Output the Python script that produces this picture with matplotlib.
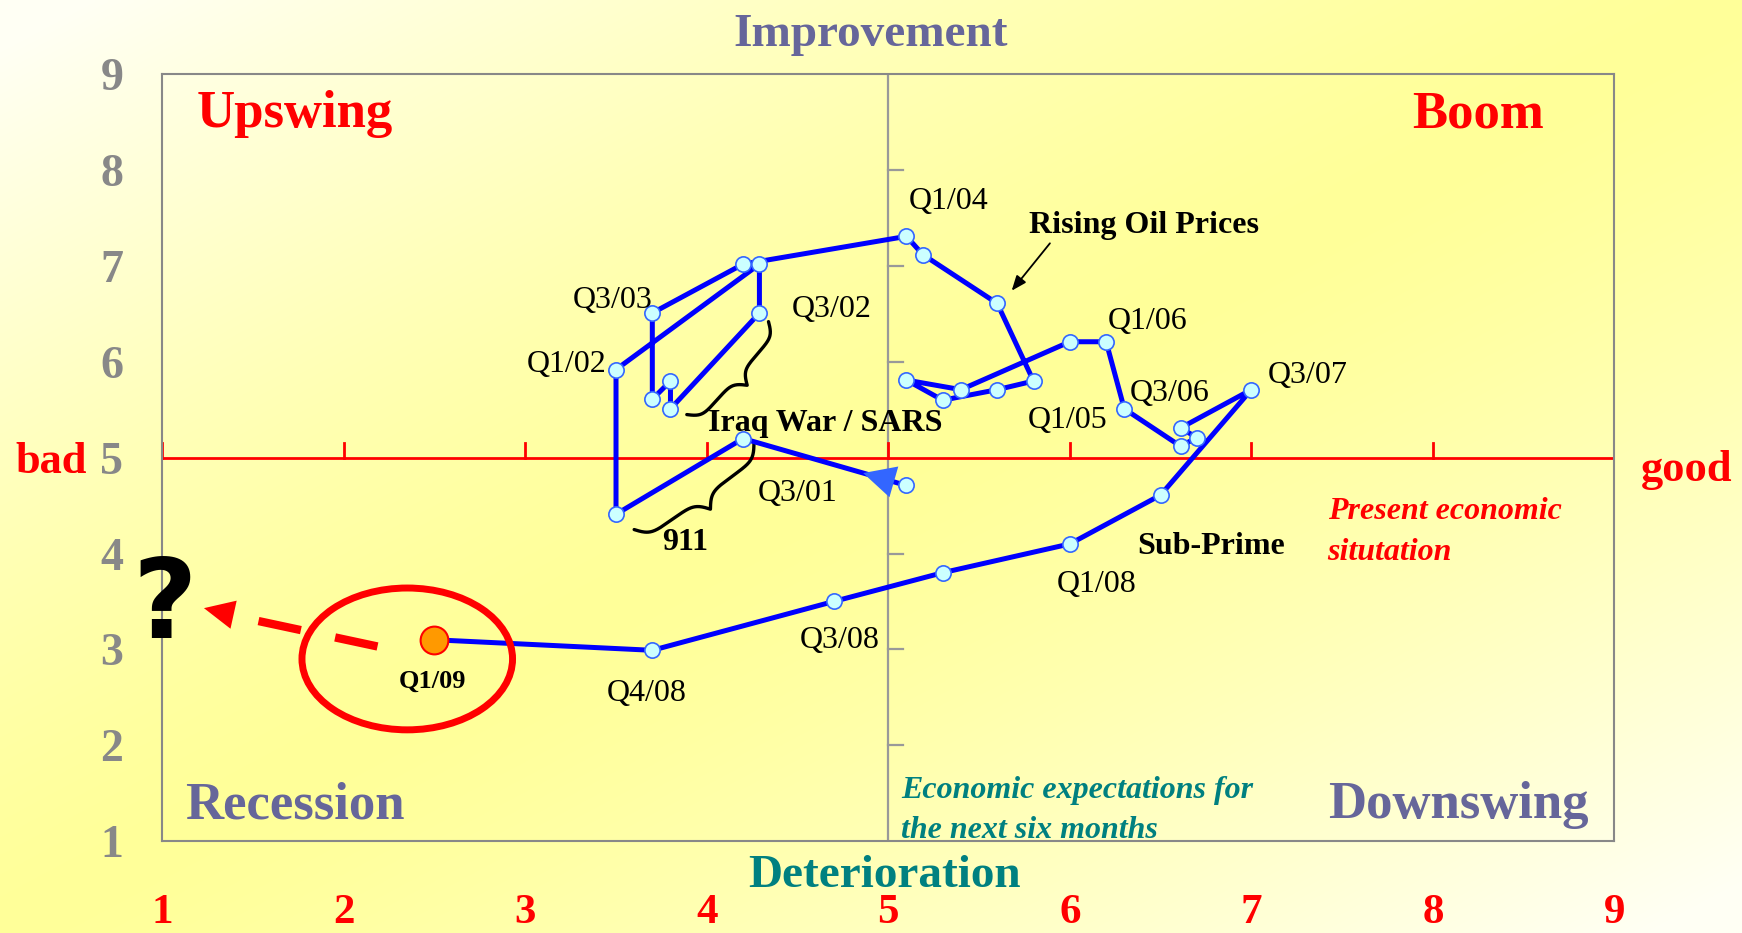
import numpy as np
import matplotlib
matplotlib.use("Agg")
import matplotlib.pyplot as plt
from matplotlib.patches import Ellipse

# quarterly survey readings: present situation (x) vs. expectations (y)
quarters = ['Q2/01', 'Q3/01', 'Q4/01',
            'Q1/02', 'Q2/02', 'Q3/02', 'Q4/02',
            'Q1/03', 'Q2/03', 'Q3/03', 'Q4/03',
            'Q1/04', 'Q2/04', 'Q3/04', 'Q4/04',
            'Q1/05', 'Q2/05', 'Q3/05', 'Q4/05',
            'Q1/06', 'Q2/06', 'Q3/06', 'Q4/06',
            'Q1/07', 'Q2/07', 'Q3/07', 'Q4/07',
            'Q1/08', 'Q2/08', 'Q3/08', 'Q4/08',
            'Q1/09']
present = [5.10, 4.20, 3.50,
           3.50, 4.29, 4.29, 3.80,
           3.80, 3.70, 3.70, 4.20,
           5.10, 5.19, 5.60, 5.80,
           5.60, 5.30, 5.10, 5.40,
           6.00, 6.20, 6.30, 6.61,
           6.70, 6.61, 7.00, 6.50,
           6.00, 5.30, 4.70, 3.70,
           2.50]
expectations = [4.71, 5.20, 4.41,
                5.92, 7.02, 6.51, 5.51,
                5.80, 5.61, 6.51, 7.02,
                7.31, 7.12, 6.61, 5.80,
                5.71, 5.60, 5.81, 5.71,
                6.21, 6.21, 5.51, 5.12,
                5.21, 5.31, 5.71, 4.61,
                4.10, 3.80, 3.50, 2.99,
                3.10]
ticks = [1, 2, 3, 4, 5, 6, 7, 8, 9]

# which quarters get a label, and where the label goes
quarter_labels = {
    'Q1/04': (5.33, 7.67), 'Q3/03': (3.48, 6.64), 'Q3/02': (4.69, 6.55),
    'Q1/02': (3.23, 5.97), 'Q3/01': (4.50, 4.63), 'Q1/06': (6.43, 6.42),
    'Q1/05': (5.99, 5.39), 'Q3/06': (6.55, 5.67), 'Q3/07': (7.31, 5.86),
    'Q1/08': (6.15, 3.68), 'Q3/08': (4.73, 3.09), 'Q4/08': (3.67, 2.54),
}

SERIF = 'Liberation Serif'
SLATE = '#66669a'
TEAL = '#008080'


def brace(ax, p0, p1, depth, color='black', lw=2.4):
    # curly brace between two data points, drawn in pixel space
    a = ax.transData.transform(p0)
    b = ax.transData.transform(p1)
    d = b - a
    length = np.hypot(*d)
    u = d / length
    n = np.array([-u[1], u[0]])
    half = np.linspace(0, length / 2, 150)
    beta = 14.0 / (length / 2)
    h = (1 / (1 + np.exp(-beta * (half - half[0])))
         + 1 / (1 + np.exp(-beta * (half - half[-1]))))
    s = np.concatenate([half, length - half[::-1]])
    h = np.concatenate([h, h[::-1]]) - 0.5
    pts = a + np.outer(s, u) + np.outer(h * depth, n)
    pts = ax.transData.inverted().transform(pts)
    ax.plot(pts[:, 0], pts[:, 1], color=color, lw=lw, zorder=2,
            solid_capstyle='round')


fig = plt.figure(figsize=(17.42, 9.33), dpi=100)

# soft yellow backdrop, paler towards two corners
yy, xx = np.mgrid[0:1:240j, 0:1:450j]
w = np.clip(np.abs(xx + yy - 1) * 1.05, 0, 1) ** 1.4
grad = np.zeros(xx.shape + (3,))
grad[..., 0] = 1.0
grad[..., 1] = 1.0
grad[..., 2] = 0.60 * (1 - w) + 0.96 * w
bg = fig.add_axes([0, 0, 1, 1], zorder=-10)
bg.imshow(grad, extent=[0, 1, 0, 1], aspect='auto', origin='upper',
          interpolation='bilinear')
bg.axis('off')

ax = fig.add_axes([162.2 / 1742, 1 - 841 / 933,
                   (1614.4 - 162.2) / 1742, (841 - 74.4) / 933])
ax.set_xlim(1, 9)
ax.set_ylim(1, 9)
ax.patch.set_visible(False)
for sp in ax.spines.values():
    sp.set_color('#888888')
    sp.set_linewidth(1.5)

ax.set_xticks(ticks)
ax.set_yticks(ticks)
ax.tick_params(axis='x', length=0, pad=38, labelcolor='red', labelsize=31)
ax.tick_params(axis='y', length=0, pad=28, labelcolor='#888888', labelsize=33)
for lbl in ax.get_xticklabels() + ax.get_yticklabels():
    lbl.set_family(SERIF)
    lbl.set_fontweight('bold')

# cross-hairs at the neutral value 5
ax.axvline(5, color='#999999', lw=1.6, zorder=1)
ax.axhline(5, color='red', lw=2.0, zorder=1)
for t in ticks:
    ax.plot([t, t], [5, 5.157], color='red', lw=2.0, zorder=1)
    if t not in (1, 5, 9):
        ax.plot([5, 5.083], [t, t], color='#999999', lw=1.6, zorder=1)

# the cycle path
ax.plot(present, expectations, color='#0000ff', lw=3.6, zorder=3,
        solid_joinstyle='round')
ax.plot(present[:-1], expectations[:-1], 'o', ms=11, mfc='#ccffff',
        mec='#3366ff', mew=1.2, zorder=4)
ax.plot(present[-1], expectations[-1], 'o', ms=20, mfc='#ff9900',
        mec='red', mew=1.5, zorder=5)

# start marker: arrowhead along the first segment
p0 = np.array([present[0], expectations[0]])
p1 = np.array([present[1], expectations[1]])
tip = p0 + 0.265 * (p1 - p0)
ax.annotate('', xy=tip, xytext=p0,
            arrowprops=dict(arrowstyle='-|>,head_length=1.0,head_width=0.5',
                            color='#3366ff', lw=0, mutation_scale=23,
                            shrinkA=0, shrinkB=0), zorder=4)

for q, (lx, ly) in quarter_labels.items():
    ax.text(lx, ly, q, family=SERIF, fontsize=23, ha='center', va='center',
            zorder=6)
ax.text(2.49, 2.67, quarters[-1], family=SERIF, fontsize=19,
        fontweight='bold', ha='center', va='center', zorder=6)

# event annotations
bold = dict(family=SERIF, fontsize=23, fontweight='bold', ha='center',
            va='center', zorder=6)
ax.text(6.41, 7.42, 'Rising Oil Prices', **bold)
ax.text(4.65, 5.36, 'Iraq War / SARS', **bold)
ax.text(3.88, 4.12, '911', **bold)
ax.text(6.78, 4.07, 'Sub-Prime', **bold)
ax.annotate('', xy=(5.67, 6.72), xytext=(5.90, 7.26),
            arrowprops=dict(arrowstyle='-|>,head_length=0.5,head_width=0.2',
                            color='black', lw=1.3, mutation_scale=18))
brace(ax, (4.34, 6.42), (3.89, 5.45), 26)
brace(ax, (4.26, 5.15), (3.60, 4.25), 28)

# the open question: where next?
ax.add_patch(Ellipse((2.35, 2.90), 1.16, 1.48, fill=False, ec='red',
                     lw=5, zorder=5))
ax.plot([2.186, 1.42], [3.03, 3.34], color='red', lw=6,
        linestyle=(0, (5.2, 4.2)), dash_capstyle='butt', zorder=5)
ax.annotate('', xy=(1.23, 3.43), xytext=(2.186, 3.03),
            arrowprops=dict(arrowstyle='-|>,head_length=0.95,head_width=0.45',
                            color='red', lw=0, mutation_scale=23,
                            shrinkA=0, shrinkB=0), zorder=5)
ax.text(1.015, 3.44, '?', family='DejaVu Sans', fontweight='bold',
        fontsize=80, ha='center', va='center', zorder=6)

# quadrant names
quad = dict(family=SERIF, fontsize=38, fontweight='bold', ha='center',
            va='center')
ax.text(1.73, 8.585, 'Upswing', color='red', **quad)
ax.text(8.25, 8.585, 'Boom', color='red', **quad)
ax.text(1.73, 1.375, 'Recession', color=SLATE, **quad)
ax.text(8.14, 1.375, 'Downswing', color=SLATE, **quad)

# axis captions
ital = dict(family=SERIF, fontsize=23, fontweight='bold', style='italic',
            ha='left', va='center')
ax.text(7.42, 4.44, 'Present economic', color='red', **ital)
ax.text(7.42, 4.01, 'situtation', color='red', **ital)
ax.text(5.07, 1.53, 'Economic expectations for', color=TEAL, **ital)
ax.text(5.07, 1.11, 'the next six months', color=TEAL, **ital)

ax.text(0.584, 4.96, 'bad', color='red', family=SERIF, fontsize=32,
        fontweight='bold', ha='right', va='center')
ax.text(9.147, 4.87, 'good', color='red', family=SERIF, fontsize=32,
        fontweight='bold', ha='left', va='center')
fig.text(0.5, 0.962, 'Improvement', color=SLATE, family=SERIF, fontsize=34,
         fontweight='bold', ha='center', va='center')
fig.text(0.508, 0.061, 'Deterioration', color=TEAL, family=SERIF,
         fontsize=34, fontweight='bold', ha='center', va='center')

fig.savefig('out.png', dpi=100)
